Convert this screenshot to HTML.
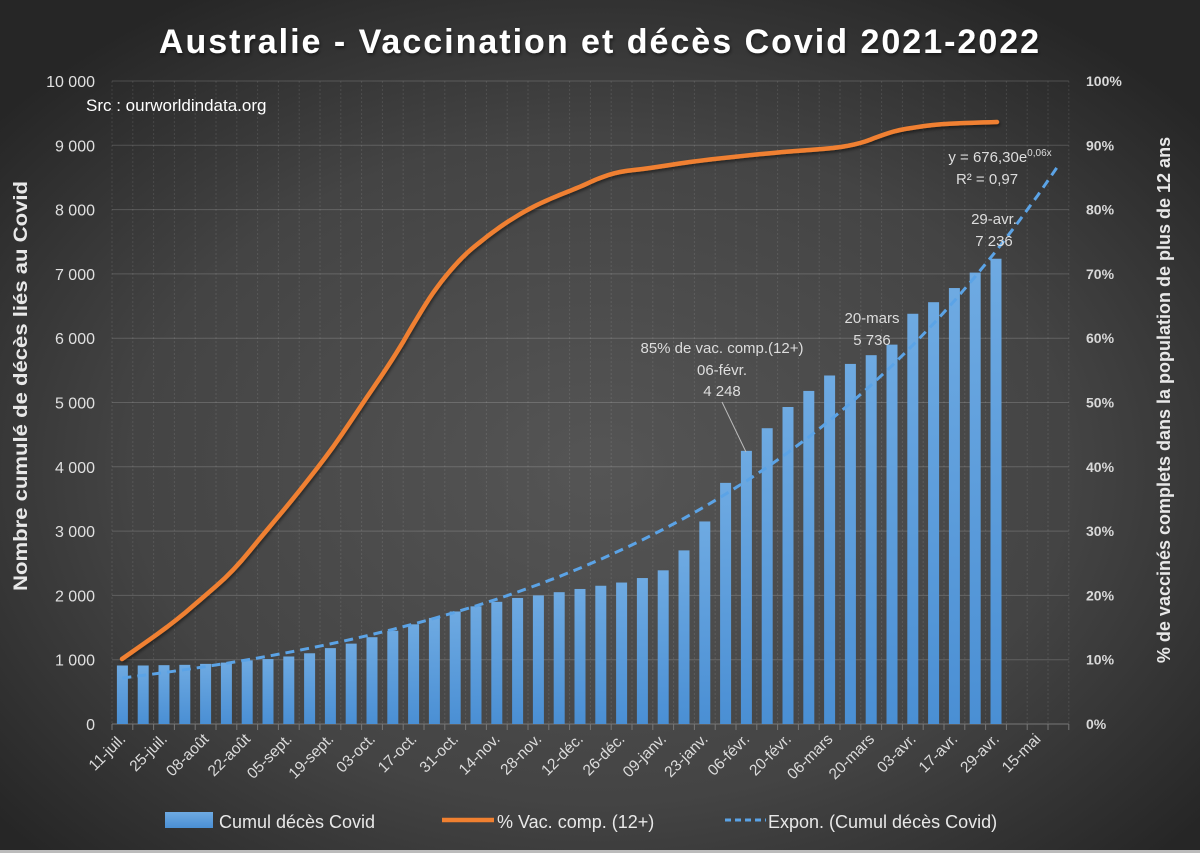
<!DOCTYPE html>
<html><head><meta charset="utf-8">
<style>
html,body{margin:0;padding:0;background:#2e2e2e;}
svg{display:block;font-family:"Liberation Sans",sans-serif;}
</style></head>
<body>
<svg id="s" width="1200" height="853" viewBox="0 0 1200 853" xmlns="http://www.w3.org/2000/svg">
<defs>
<radialGradient id="bg" cx="50%" cy="55%" r="65%">
<stop offset="0" stop-color="#555555"/>
<stop offset="0.6" stop-color="#444444"/>
<stop offset="1" stop-color="#262626"/>
</radialGradient>
<linearGradient id="bar" x1="0" y1="0" x2="0" y2="1">
<stop offset="0" stop-color="#6eaae2"/>
<stop offset="1" stop-color="#4a8fd4"/>
</linearGradient>
<filter id="sh" x="-10%" y="-10%" width="120%" height="120%"><feDropShadow dx="1" dy="2" stdDeviation="1.5" flood-color="#000" flood-opacity="0.5"/></filter>
</defs>
<rect width="1200" height="853" fill="url(#bg)"/>
<rect x="0" y="850" width="1200" height="3" fill="#bbb"/>
<g id="grid"></g>
<g id="bars"></g>
<path id="trend" fill="none" stroke="#5ba3e6" stroke-width="3" stroke-dasharray="9,6"/>
<polyline id="orange" fill="none" stroke="#f08030" stroke-width="4.5" stroke-linejoin="round" stroke-linecap="round" filter="url(#sh)"/>
<g id="labels" fill="#e0e0e0"></g>
<text x="600" y="53" text-anchor="middle" font-size="34" font-weight="bold" letter-spacing="2" fill="#fff" filter="url(#sh)">Australie - Vaccination et décès Covid 2021-2022</text>
<text x="86" y="111" font-size="17" fill="#fff">Src : ourworldindata.org</text>
<text transform="translate(27,386) rotate(-90)" text-anchor="middle" font-size="19" font-weight="bold" fill="#e8e8e8" textLength="410" lengthAdjust="spacingAndGlyphs">Nombre cumulé de décès liés au Covid</text>
<text transform="translate(1170,400) rotate(-90)" text-anchor="middle" font-size="18" font-weight="bold" fill="#e8e8e8">% de vaccinés complets dans  la population de plus de 12 ans</text>
<g font-size="15" fill="#dddddd" text-anchor="middle">
<text x="722" y="353">85% de vac. comp.(12+)</text>
<text x="722" y="375">06-févr.</text>
<text x="722" y="396">4 248</text>
<line x1="722" y1="402" x2="746" y2="452" stroke="#bbb" stroke-width="1"/>
<text x="872" y="323">20-mars</text>
<text x="872" y="345">5 736</text>
<text x="994" y="224">29-avr.</text>
<text x="994" y="246">7 236</text>
<text x="1000" y="162">y = 676,30e<tspan font-size="10" dy="-6">0,06x</tspan></text>
<text x="987" y="184">R² = 0,97</text>
</g>
<g font-size="18" fill="#e8e8e8">
<rect x="165" y="812" width="48" height="16" fill="url(#bar)"/>
<text x="219" y="828">Cumul décès Covid</text>
<line x1="442" y1="820" x2="494" y2="820" stroke="#f08030" stroke-width="4.5"/>
<text x="497" y="828">% Vac. comp. (12+)</text>
<line x1="725" y1="820" x2="766" y2="820" stroke="#5ba3e6" stroke-width="3" stroke-dasharray="6,4"/>
<text x="768" y="828">Expon. (Cumul décès Covid)</text>
</g>
</svg>
<script>
(function(){
var NS="http://www.w3.org/2000/svg";
function el(t,a,p,txt){var e=document.createElementNS(NS,t);for(var k in a)e.setAttribute(k,a[k]);if(txt!==undefined)e.textContent=txt;p.appendChild(e);return e;}
var x0=112,w=20.8,y0=724,ppu=0.0643;
var grid=document.getElementById('grid'),bars=document.getElementById('bars'),lab=document.getElementById('labels');
for(var k=0;k<=46;k++){var x=x0+w*k;el('line',{x1:x,y1:81,x2:x,y2:y0,stroke:'rgba(255,255,255,0.1)','stroke-width':1,'stroke-dasharray':'2,2'},grid);
el('line',{x1:x,y1:y0,x2:x,y2:y0+6,stroke:'#777','stroke-width':1},grid);}
for(var j=0;j<=10;j++){var y=y0-j*1000*ppu;
el('line',{x1:x0,y1:y,x2:x0+46*w,y2:y,stroke:j==0?'#777':'rgba(255,255,255,0.17)','stroke-width':1},grid);
el('text',{x:95,y:y+6,'text-anchor':'end','font-size':16},lab,j==0?'0':(j==10?'10 000':j+' 000'));
el('text',{x:1086,y:y+5,'font-size':14,'font-weight':'bold','fill':'#d8d8d8'},lab,(j*10)+'%');}
var v=[910,910,915,920,935,955,990,1010,1050,1100,1180,1250,1350,1450,1550,1650,1750,1830,1900,1960,2000,2050,2100,2150,2200,2270,2390,2700,3150,3750,4248,4600,4930,5180,5420,5600,5736,5900,6380,6560,6780,7020,7236];
for(var i=0;i<v.length;i++){var c=x0+w*(i+0.5),h=v[i]*ppu;el('rect',{x:c-5.5,y:y0-h,width:11,height:h,fill:'url(#bar)'},bars);}
var names=['11-juil.','25-juil.','08-août','22-août','05-sept.','19-sept.','03-oct.','17-oct.','31-oct.','14-nov.','28-nov.','12-déc.','26-déc.','09-janv.','23-janv.','06-févr.','20-févr.','06-mars','20-mars','03-avr.','17-avr.','29-avr.','15-mai'];
for(var n=0;n<names.length;n++){var c=x0+w*(2*n+0.5)+4;el('text',{transform:'translate('+c+',740) rotate(-45)','text-anchor':'end','font-size':15.5,fill:'#dcdcdc'},lab,names[n]);}
var d='';for(var i=0;i<=45;i++){var c=x0+w*(i+0.5),val=676.3*Math.exp(0.0555*(i+1));d+=(i?'L':'M')+c.toFixed(1)+','+(y0-val*ppu).toFixed(1);}
document.getElementById('trend').setAttribute('d',d);
var P=[[122,659],[167,627],[200,600],[233,570],[267,530],[300,490],[333,447],[367,397],[384,372],[400,347],[416,320],[433,293],[450,271],[467,253],[484,239],[500,227],[517,216],[533,207],[550,199],[567,192],[584,185],[600,178],[620,172],[650,168],[690,162],[733,157],[783,152],[833,148],[860,143],[880,136],[900,130],[933,125],[965,123],[997,122]];
var pts=[];for(var i=0;i<P.length-1;i++){var p0=P[Math.max(0,i-1)],p1=P[i],p2=P[i+1],p3=P[Math.min(P.length-1,i+2)];
for(var t=0;t<1;t+=0.25){var t2=t*t,t3=t2*t;var f=function(a,b,c,dd){return 0.5*((2*b)+(-a+c)*t+(2*a-5*b+4*c-dd)*t2+(-a+3*b-3*c+dd)*t3);};
pts.push(f(p0[0],p1[0],p2[0],p3[0]).toFixed(1)+','+f(p0[1],p1[1],p2[1],p3[1]).toFixed(1));}}
pts.push(P[P.length-1].join(','));
document.getElementById('orange').setAttribute('points',pts.join(' '));
})();
</script>
</body></html>
